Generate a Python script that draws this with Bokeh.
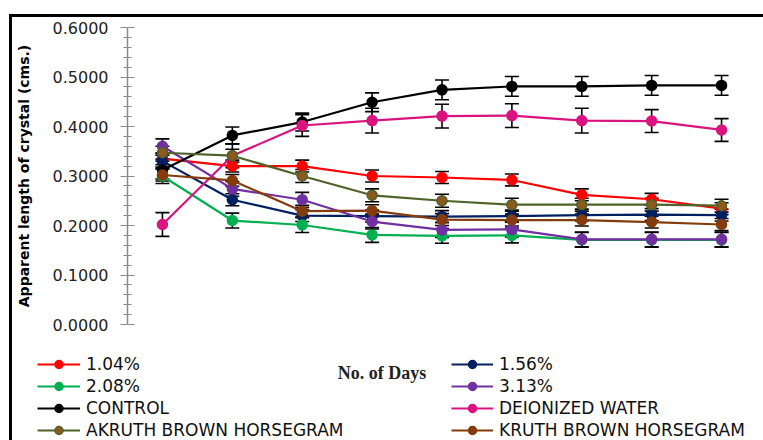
from bokeh.plotting import figure
from bokeh.layouts import column
from bokeh.models import (ColumnDataSource, Whisker, TeeHead, Legend, LegendItem, Label,
                          SingleIntervalTicker, NumeralTickFormatter, Range1d)
from bokeh.embed import file_html
from bokeh.resources import INLINE

days = [1, 2, 3, 4, 5, 6, 7, 8, 9]

names = ["1.04%", "1.56%", "2.08%", "3.13%", "CONTROL", "DEIONIZED WATER",
         "AKRUTH BROWN HORSEGRAM", "KRUTH BROWN HORSEGRAM"]

v_104 = [0.335, 0.320, 0.320, 0.300, 0.297, 0.292, 0.262, 0.253, 0.234]
v_156 = [0.330, 0.252, 0.220, 0.219, 0.218, 0.219, 0.221, 0.222, 0.221]
v_208 = [0.300, 0.210, 0.201, 0.181, 0.179, 0.180, 0.171, 0.171, 0.171]
v_313 = [0.360, 0.274, 0.252, 0.208, 0.191, 0.192, 0.172, 0.172, 0.172]
v_control = [0.312, 0.382, 0.409, 0.449, 0.474, 0.481, 0.481, 0.483, 0.483]
v_water = [0.202, 0.341, 0.402, 0.412, 0.421, 0.422, 0.412, 0.411, 0.393]
v_akruth = [0.347, 0.341, 0.300, 0.261, 0.250, 0.242, 0.242, 0.242, 0.240]
v_kruth = [0.302, 0.291, 0.229, 0.230, 0.212, 0.211, 0.211, 0.207, 0.202]

e_104 = [0.012] * 9
e_156 = [0.012] * 9
e_208 = [0.015] * 9
e_313 = [0.015] * 9
e_control = [0.018, 0.017, 0.018, 0.019, 0.020, 0.020, 0.020, 0.020, 0.020]
e_water = [0.024, 0.024, 0.022, 0.025, 0.024, 0.024, 0.025, 0.023, 0.023]
e_akruth = [0.013] * 9
e_kruth = [0.012] * 9

values = [v_104, v_156, v_208, v_313, v_control, v_water, v_akruth, v_kruth]
errors = [e_104, e_156, e_208, e_313, e_control, e_water, e_akruth, e_kruth]

line_colors = ["#FF0000", "#002060", "#00B050", "#7030A0", "#000000", "#D9137F", "#4F6228", "#843C0C"]
fill_colors = ["#FF0000", "#002060", "#00B050", "#7030A0", "#000000", "#D9137F", "#8C5A1E", "#843C0C"]

# ---------------- main chart ----------------
p = figure(width=751, height=327, output_backend="svg", toolbar_location=None,
           x_range=Range1d(0.5, 9.5), y_range=Range1d(0, 0.6000001),
           x_axis_location=None,
           min_border_left=115, min_border_right=7, min_border_top=10, min_border_bottom=20)
p.frame_align = False
p.outline_line_color = None
p.grid.visible = False
p.background_fill_color = "white"
p.border_fill_color = "white"

yax = p.yaxis[0]
yax.ticker = SingleIntervalTicker(interval=0.1, num_minor_ticks=5)
yax.formatter = NumeralTickFormatter(format="0.0000")
yax.axis_line_color = "#8a8a8a"
yax.axis_line_width = 1.5
yax.major_tick_line_color = "#8a8a8a"
yax.minor_tick_line_color = "#8a8a8a"
yax.major_tick_in = 7
yax.major_tick_out = 7
yax.minor_tick_in = 4
yax.minor_tick_out = 4
yax.major_label_standoff = 12
yax.major_label_text_font = "DejaVu Sans"
yax.major_label_text_font_size = "16px"
yax.major_label_text_color = "#222222"
yax.axis_label = "Apparent length of crystal (cms.)"
yax.axis_label_text_font = "DejaVu Sans"
yax.axis_label_text_font_style = "bold"
yax.axis_label_text_font_size = "14px"
yax.axis_label_text_color = "#000000"
yax.axis_label_standoff = 18

sources = []
for name, vals, errs, lc, fc in zip(names, values, errors, line_colors, fill_colors):
    src = ColumnDataSource(dict(x=days, y=vals,
                                upper=[v + e for v, e in zip(vals, errs)],
                                lower=[v - e for v, e in zip(vals, errs)]))
    sources.append(src)
    p.line("x", "y", source=src, line_color=lc, line_width=2.2)
    w = Whisker(base="x", upper="upper", lower="lower", source=src,
                line_color="black", line_width=1.6,
                upper_head=TeeHead(size=14, line_color="black", line_width=1.6),
                lower_head=TeeHead(size=14, line_color="black", line_width=1.6))
    p.add_layout(w)
    p.scatter("x", "y", source=src, size=10, marker="circle",
              fill_color=fc, line_color=lc, line_width=1.5)

# ---------------- legend strip (same series, view range set off the data) ----------------
pb = figure(width=751, height=96, output_backend="svg", toolbar_location=None,
            x_range=Range1d(-2, -1), y_range=Range1d(0, 1),
            x_axis_location=None, y_axis_location=None,
            min_border_left=0, min_border_right=0, min_border_top=0, min_border_bottom=0)
pb.frame_align = False
pb.outline_line_color = None
pb.grid.visible = False

items = []
for name, src, lc, fc in zip(names, sources, line_colors, fill_colors):
    ln = pb.line("x", "y", source=src, line_color=lc, line_width=2.2)
    sc = pb.scatter("x", "y", source=src, size=8, marker="circle",
                    fill_color=fc, line_color=lc, line_width=1.5)
    items.append(LegendItem(label=name, renderers=[ln, sc]))

def make_legend(its, loc, gw):
    return Legend(items=its, location=loc, orientation="vertical",
                  glyph_width=gw, glyph_height=20, label_height=20, spacing=2,
                  label_standoff=6, padding=0, margin=0,
                  border_line_color=None, background_fill_alpha=0,
                  label_text_font="DejaVu Sans", label_text_font_size="17px",
                  label_text_color="#111111")

pb.add_layout(make_legend([items[0], items[2], items[4], items[6]], (25, 0), 43))
pb.add_layout(make_legend([items[1], items[3], items[5], items[7]], (439, 0), 42))

pb.add_layout(Label(x=369.5, y=28.5, x_units="canvas", y_units="canvas", text="No. of Days",
                    text_align="center", text_baseline="middle",
                    text_font="Liberation Serif", text_font_style="bold",
                    text_font_size="18px", text_color="#222222"))

layout = column(p, pb, spacing=0,
                styles={"border-top": "3px solid black", "border-left": "3px solid black",
                        "margin-left": "9px", "margin-top": "14px"})

open("out.html", "w").write(file_html(layout, INLINE))
